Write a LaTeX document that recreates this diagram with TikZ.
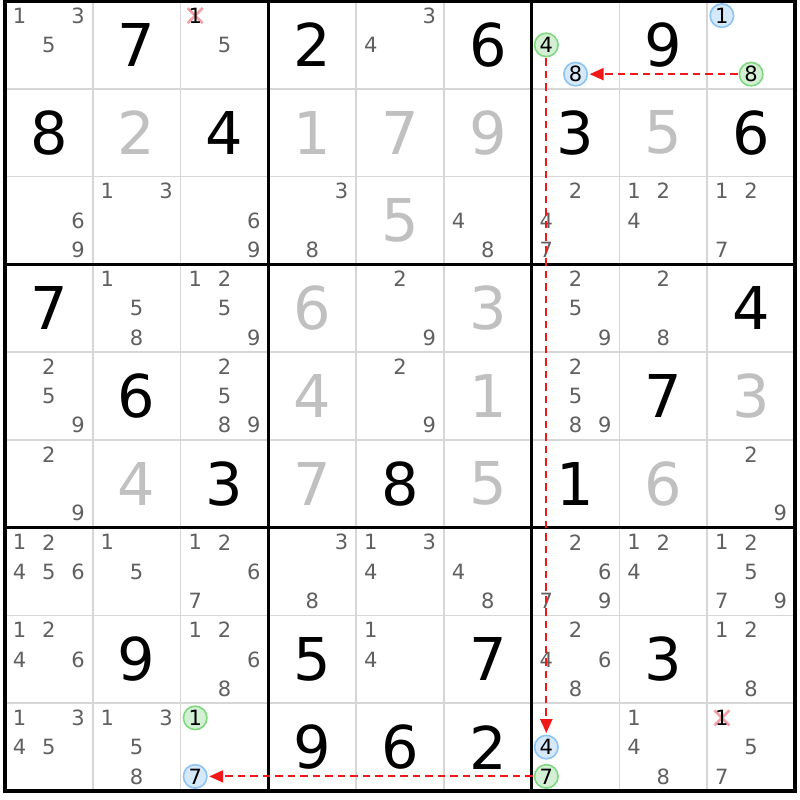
\documentclass[tikz,border=0pt]{standalone}
\usepackage{fontspec}
\setmainfont{DejaVu Sans}
\usetikzlibrary{arrows.meta}
\definecolor{solvedgray}{HTML}{C0C0C0}
\definecolor{candgray}{HTML}{606060}
\definecolor{gridgray}{HTML}{D6D6D6}
\definecolor{bluefill}{HTML}{D6E9FB}
\definecolor{blueedge}{HTML}{8CC4F5}
\definecolor{greenfill}{HTML}{D4F0D4}
\definecolor{greenedge}{HTML}{7ED87E}
\definecolor{xred}{HTML}{F4A0A8}
\definecolor{linkred}{HTML}{F01818}
\begin{document}
\begin{tikzpicture}[x=1pt,y=-1pt,
  bigdigit/.style={font=\fontsize{59}{59}\selectfont, inner sep=0pt},
  givendigit/.style={bigdigit, text=black},
  solveddigit/.style={bigdigit, text=solvedgray},
  canddigit/.style={font=\fontsize{21}{21}\selectfont, text=candgray, inner sep=0pt},
  markdigit/.style={font=\fontsize{21}{21}\selectfont, text=black, inner sep=0pt},
  bluecand/.style={circle, draw=blueedge, fill=bluefill, line width=1.6pt, minimum size=23.5pt, inner sep=0pt, font=\fontsize{21}{21}\selectfont, text=black},
  greencand/.style={circle, draw=greenedge, fill=greenfill, line width=1.6pt, minimum size=23.5pt, inner sep=0pt, font=\fontsize{21}{21}\selectfont, text=black},
  minorline/.style={draw=gridgray, line width=1.6pt},
  boxline/.style={draw=black, line width=3.2pt},
  xmark/.style={draw=xred, line width=2.6pt},
  linkarrow/.style={draw=linkred, line width=2pt, dash pattern=on 7.5pt off 5pt, -{Triangle[length=14pt,width=12pt]}, shorten >=1.5pt, shorten <=1pt},
]
\useasboundingbox (0,0) rectangle (800,800);
\fill[white] (0,0) rectangle (800,800);
% minor lines
\foreach \i in {1,2,4,5,7,8} {
  \draw[minorline] ({5+\i*87.78},1) -- ({5+\i*87.78},791);
  \draw[minorline] (5,{1+\i*87.78}) -- (795,{1+\i*87.78});
}
% box lines
\foreach \i in {0,3,6,9} {
  \draw[boxline] ({5+\i*87.78},-0.6) -- ({5+\i*87.78},792.6);
  \draw[boxline] (3.4,{1+\i*87.78}) -- (796.6,{1+\i*87.78});
}
% given digits
\foreach \r/\c/\d in {1/2/7,1/4/2,1/6/6,1/8/9,2/1/8,2/3/4,2/7/3,2/9/6,4/1/7,4/9/4,5/2/6,5/8/7,6/3/3,6/5/8,6/7/1,8/2/9,8/4/5,8/6/7,8/8/3,9/4/9,9/5/6,9/6/2} {
  \node[givendigit] (g\r\c) at ({5+(\c-0.5)*87.78},{1+(\r-0.5)*87.78}) {\d};
}
% solved digits
\foreach \r/\c/\d in {2/2/2,2/4/1,2/5/7,2/6/9,2/8/5,3/5/5,4/4/6,4/6/3,5/4/4,5/6/1,5/9/3,6/2/4,6/4/7,6/6/5,6/8/6} {
  \node[solveddigit] (s\r\c) at ({5+(\c-0.5)*87.78},{1+(\r-0.5)*87.78}) {\d};
}
% candidates
\foreach \r/\c/\d in {1/1/1,1/1/3,1/1/5,1/3/5,1/5/3,1/5/4,
  3/1/6,3/1/9,3/2/1,3/2/3,3/3/6,3/3/9,3/4/3,3/4/8,3/6/4,3/6/8,3/7/2,3/7/4,3/7/7,3/8/1,3/8/2,3/8/4,3/9/1,3/9/2,3/9/7,
  4/2/1,4/2/5,4/2/8,4/3/1,4/3/2,4/3/5,4/3/9,4/5/2,4/5/9,4/7/2,4/7/5,4/7/9,4/8/2,4/8/8,
  5/1/2,5/1/5,5/1/9,5/3/2,5/3/5,5/3/8,5/3/9,5/5/2,5/5/9,5/7/2,5/7/5,5/7/8,5/7/9,
  6/1/2,6/1/9,6/9/2,6/9/9,
  7/1/1,7/1/2,7/1/4,7/1/5,7/1/6,7/2/1,7/2/5,7/3/1,7/3/2,7/3/6,7/3/7,7/4/3,7/4/8,7/5/1,7/5/3,7/5/4,7/6/4,7/6/8,7/7/2,7/7/6,7/7/7,7/7/9,7/8/1,7/8/2,7/8/4,7/9/1,7/9/2,7/9/5,7/9/7,7/9/9,
  8/1/1,8/1/2,8/1/4,8/1/6,8/3/1,8/3/2,8/3/6,8/3/8,8/5/1,8/5/4,8/7/2,8/7/4,8/7/6,8/7/8,8/9/1,8/9/2,8/9/8,
  9/1/1,9/1/3,9/1/4,9/1/5,9/2/1,9/2/3,9/2/5,9/2/8,9/8/1,9/8/4,9/8/8,9/9/5,9/9/7} {
  \pgfmathsetmacro\px{5+(\c-1)*87.78+14.63+mod(\d-1,3)*29.26}
  \pgfmathsetmacro\py{1+(\r-1)*87.78+14.63+floor((\d-1)/3)*29.26}
  \node[canddigit] (k\r\c\d) at (\px,\py) {\d};
}
% eliminated candidates
\foreach \r/\c in {1/3,9/9} {
  \pgfmathsetmacro\px{5+(\c-1)*87.78+14.63}
  \pgfmathsetmacro\py{1+(\r-1)*87.78+14.63}
  \draw[xmark] ({\px-7.5},{\py-7.5}) -- ({\px+7.5},{\py+7.5});
  \draw[xmark] ({\px-7.5},{\py+7.5}) -- ({\px+7.5},{\py-7.5});
  \node[markdigit] (x\r\c) at (\px,\py) {1};
}
% highlighted candidates
\foreach \r/\c/\d/\sty in {1/7/4/greencand,1/7/8/bluecand,1/9/1/bluecand,1/9/8/greencand,9/3/1/greencand,9/3/7/bluecand,9/7/4/bluecand,9/7/7/greencand} {
  \pgfmathsetmacro\px{5+(\c-1)*87.78+14.63+mod(\d-1,3)*29.26}
  \pgfmathsetmacro\py{1+(\r-1)*87.78+14.63+floor((\d-1)/3)*29.26}
  \node[\sty] (h\r\c\d) at (\px,\py) {\d};
}
% links
\draw[linkarrow] (h198) -- (h178);
\draw[linkarrow] (h174) -- (h974);
\draw[linkarrow] (h977) -- (h937);
\end{tikzpicture}
\end{document}
